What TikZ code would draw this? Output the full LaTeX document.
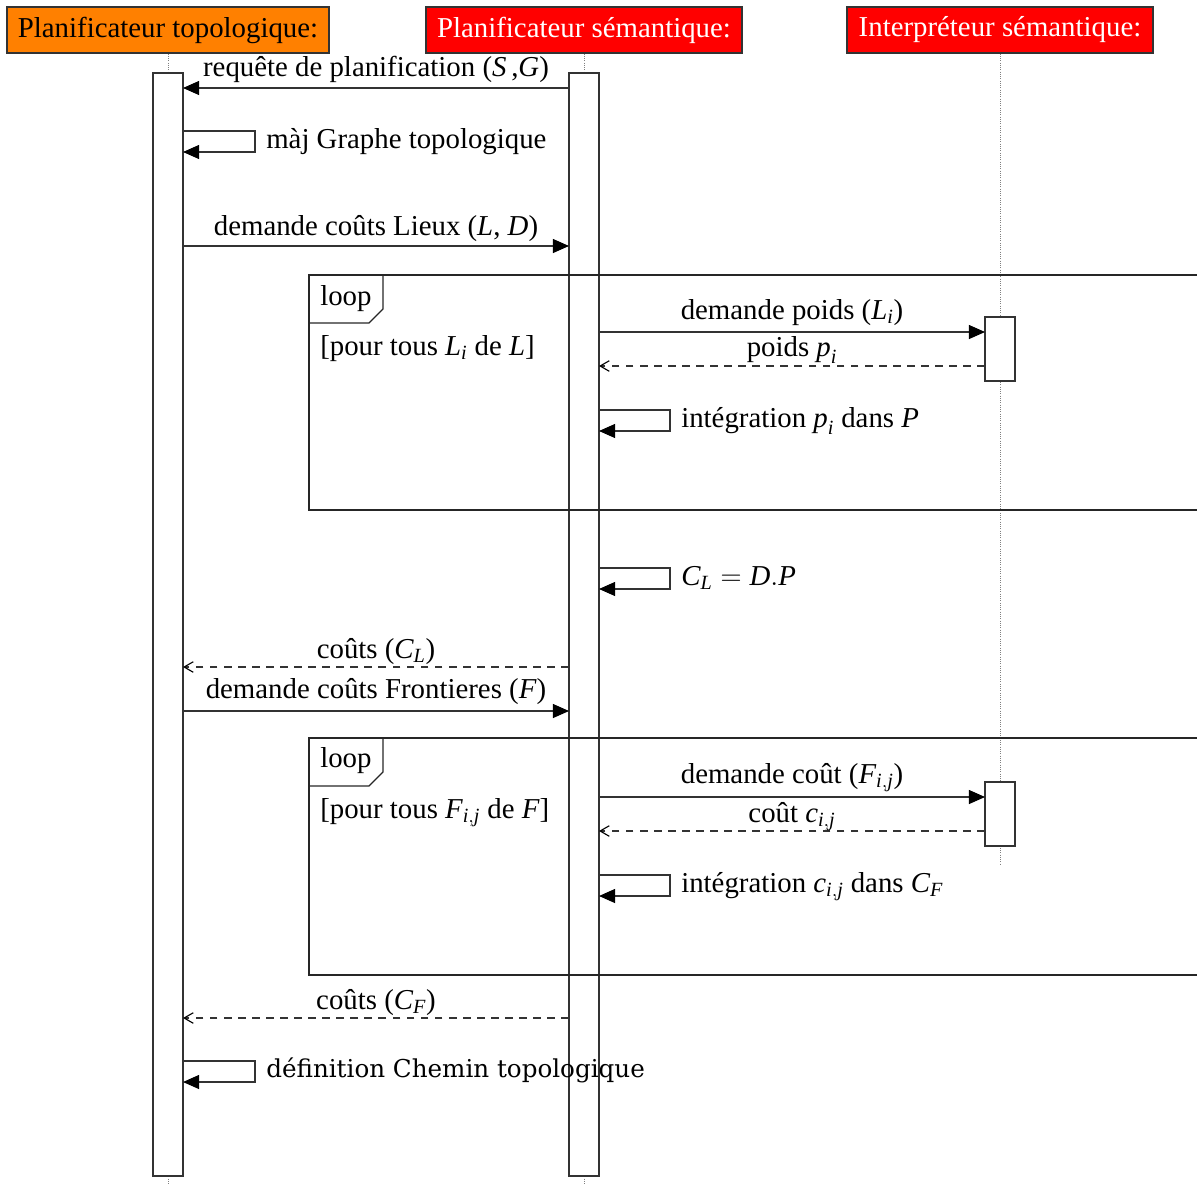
\documentclass[tikz,border=0pt]{standalone}
\usepackage{fontspec}
\usepackage{amsmath}
\setmainfont{Liberation Serif}
\newfontfamily\chemfont{DejaVu Serif}
\usetikzlibrary{arrows.meta}
\pgfdeclarelayer{edgelayer}
\pgfdeclarelayer{nodelayer}
\pgfsetlayers{edgelayer,nodelayer,main}
\definecolor{topoorange}{RGB}{255,128,0}
\newcommand{\mvar}[1]{\textit{#1}}
\tikzset{font=\fontsize{20.5}{24}\selectfont}
\tikzstyle{none}=[inner sep=0pt]
\tikzstyle{head}=[draw=black!80, line width=0.8pt, minimum height=1.15cm, inner sep=0pt, fill=red, text=white]
\tikzstyle{life}=[draw=gray, densely dotted, line width=0.6pt]
\tikzstyle{act}=[draw=black!80, line width=0.8pt, fill=white]
\tikzstyle{loopframe}=[draw=black!85, line width=0.8pt]
\tikzstyle{msg}=[draw=black!80, line width=0.8pt, -{Triangle[length=11.5pt,width=10pt,color=black,fill=black]}]
\tikzstyle{reply}=[draw=black!80, line width=0.8pt, dash pattern=on 5.5pt off 4.5pt, -{Straight Barb[length=6.5pt,width=7.5pt,color=black]}]
\tikzstyle{lbl}=[inner sep=0pt, anchor=base]
\tikzstyle{note}=[inner sep=0pt, anchor=base west]

\begin{document}
\begin{tikzpicture}[x=0.025cm, y=-0.025cm]
	\useasboundingbox (0,0) rectangle (1197,1185);
	\begin{pgfonlayer}{nodelayer}
		\node [style=head, fill=topoorange, text=black, minimum width=8.05cm] (0) at (168, 30) {Planificateur topologique:};
		\node [style=head, minimum width=7.9cm] (1) at (584, 30) {Planificateur sémantique:};
		\node [style=head, minimum width=7.65cm] (2) at (1000, 30) {Interpréteur sémantique:};
		\node [style=none] (3) at (168, 1185) {};
		\node [style=none] (4) at (584, 1185) {};
		\node [style=none] (5) at (1000, 865) {};
		\node [style=none] (6) at (153, 73) {};
		\node [style=none] (7) at (183, 1176) {};
		\node [style=none] (8) at (569, 73) {};
		\node [style=none] (9) at (599, 1176) {};
		\node [style=none] (10) at (985, 317) {};
		\node [style=none] (11) at (1015, 381) {};
		\node [style=none] (12) at (985, 782) {};
		\node [style=none] (13) at (1015, 846) {};
		\node [style=none] (14) at (1200, 275) {};
		\node [style=none] (15) at (309, 275) {};
		\node [style=none] (16) at (309, 510) {};
		\node [style=none] (17) at (1200, 510) {};
		\node [style=none] (18) at (383, 275) {};
		\node [style=none] (19) at (383, 309) {};
		\node [style=none] (20) at (369, 323) {};
		\node [style=none] (21) at (309, 323) {};
		\node [style=none] (22) at (1200, 738) {};
		\node [style=none] (23) at (309, 738) {};
		\node [style=none] (24) at (309, 975) {};
		\node [style=none] (25) at (1200, 975) {};
		\node [style=none] (26) at (383, 738) {};
		\node [style=none] (27) at (383, 772) {};
		\node [style=none] (28) at (369, 786) {};
		\node [style=none] (29) at (309, 786) {};
		\node [style=none] (30) at (569, 88) {};
		\node [style=none] (31) at (183, 88) {};
		\node [style=none] (32) at (183, 131) {};
		\node [style=none] (33) at (255, 131) {};
		\node [style=none] (34) at (255, 152) {};
		\node [style=none] (35) at (183, 152) {};
		\node [style=none] (36) at (183, 246) {};
		\node [style=none] (37) at (569, 246) {};
		\node [style=none] (38) at (599, 332) {};
		\node [style=none] (39) at (985, 332) {};
		\node [style=none] (40) at (985, 366) {};
		\node [style=none] (41) at (599, 366) {};
		\node [style=none] (42) at (599, 410) {};
		\node [style=none] (43) at (670, 410) {};
		\node [style=none] (44) at (670, 431) {};
		\node [style=none] (45) at (599, 431) {};
		\node [style=none] (46) at (599, 568) {};
		\node [style=none] (47) at (670, 568) {};
		\node [style=none] (48) at (670, 589) {};
		\node [style=none] (49) at (599, 589) {};
		\node [style=none] (50) at (569, 667) {};
		\node [style=none] (51) at (183, 667) {};
		\node [style=none] (52) at (183, 711) {};
		\node [style=none] (53) at (569, 711) {};
		\node [style=none] (54) at (599, 797) {};
		\node [style=none] (55) at (985, 797) {};
		\node [style=none] (56) at (985, 831) {};
		\node [style=none] (57) at (599, 831) {};
		\node [style=none] (58) at (599, 875) {};
		\node [style=none] (59) at (670, 875) {};
		\node [style=none] (60) at (670, 896) {};
		\node [style=none] (61) at (599, 896) {};
		\node [style=none] (62) at (569, 1018) {};
		\node [style=none] (63) at (183, 1018) {};
		\node [style=none] (64) at (183, 1061) {};
		\node [style=none] (65) at (255, 1061) {};
		\node [style=none] (66) at (255, 1082) {};
		\node [style=none] (67) at (183, 1082) {};
		\node [style=lbl] (68) at (376, 76) {requête de planification (\mvar{S}\,,\mvar{G})};
		\node [style=note] (69) at (266, 148) {màj Graphe topologique};
		\node [style=lbl] (70) at (376, 235) {demande coûts Lieux (\mvar{L}, \mvar{D})};
		\node [style=note] (71) at (320, 305) {loop};
		\node [style=note] (72) at (320, 355) {[pour tous $\mvar{L}_{\mvar{i}}$ de \mvar{L}]};
		\node [style=lbl] (73) at (792, 319) {demande poids ($\mvar{L}_{\mvar{i}}$)};
		\node [style=lbl] (74) at (792, 356) {poids $\mvar{p}_{\mvar{i}}$};
		\node [style=note] (75) at (681, 427) {intégration $\mvar{p}_{\mvar{i}}$ dans \mvar{P}};
		\node [style=note] (76) at (681, 585) {$\mvar{C}_{\mvar{L}} = \mvar{D}.\mvar{P}$};
		\node [style=lbl] (77) at (376, 658) {coûts ($\mvar{C}_{\mvar{L}}$)};
		\node [style=lbl] (78) at (376, 698) {demande coûts Frontieres (\mvar{F})};
		\node [style=note] (79) at (320, 767) {loop};
		\node [style=note] (80) at (320, 818) {[pour tous $\mvar{F}_{\mvar{i},\mvar{j}}$ de \mvar{F}]};
		\node [style=lbl] (81) at (792, 783) {demande coût ($\mvar{F}_{\mvar{i},\mvar{j}}$)};
		\node [style=lbl] (82) at (792, 822) {coût $\mvar{c}_{\mvar{i},\mvar{j}}$};
		\node [style=note] (83) at (681, 892) {intégration $\mvar{c}_{\mvar{i},\mvar{j}}$ dans $\mvar{C}_{\mvar{F}}$};
		\node [style=lbl] (84) at (376, 1009) {coûts ($\mvar{C}_{\mvar{F}}$)};
		\node [style=note, font=\chemfont\fontsize{17.5}{21}\selectfont] (85) at (266, 1077) {définition Chemin topologique};
	\end{pgfonlayer}
	\begin{pgfonlayer}{edgelayer}
		\draw [style=life] (0.south) to (3.center);
		\draw [style=life] (1.south) to (4.center);
		\draw [style=life] (2.south) to (5.center);
		\draw [style=act] (6.center) rectangle (7.center);
		\draw [style=act] (8.center) rectangle (9.center);
		\draw [style=act] (10.center) rectangle (11.center);
		\draw [style=act] (12.center) rectangle (13.center);
		\draw [style=loopframe] (14.center) to (15.center) to (16.center) to (17.center);
		\draw [style=loopframe] (18.center) to (19.center) to (20.center) to (21.center);
		\draw [style=loopframe] (22.center) to (23.center) to (24.center) to (25.center);
		\draw [style=loopframe] (26.center) to (27.center) to (28.center) to (29.center);
		\draw [style=msg] (30.center) to (31.center);
		\draw [style=msg] (32.center) -- (33.center) -- (34.center) -- (35.center);
		\draw [style=msg] (36.center) to (37.center);
		\draw [style=msg] (38.center) to (39.center);
		\draw [style=reply] (40.center) to (41.center);
		\draw [style=msg] (42.center) -- (43.center) -- (44.center) -- (45.center);
		\draw [style=msg] (46.center) -- (47.center) -- (48.center) -- (49.center);
		\draw [style=reply] (50.center) to (51.center);
		\draw [style=msg] (52.center) to (53.center);
		\draw [style=msg] (54.center) to (55.center);
		\draw [style=reply] (56.center) to (57.center);
		\draw [style=msg] (58.center) -- (59.center) -- (60.center) -- (61.center);
		\draw [style=reply] (62.center) to (63.center);
		\draw [style=msg] (64.center) -- (65.center) -- (66.center) -- (67.center);
	\end{pgfonlayer}
\end{tikzpicture}
\end{document}
